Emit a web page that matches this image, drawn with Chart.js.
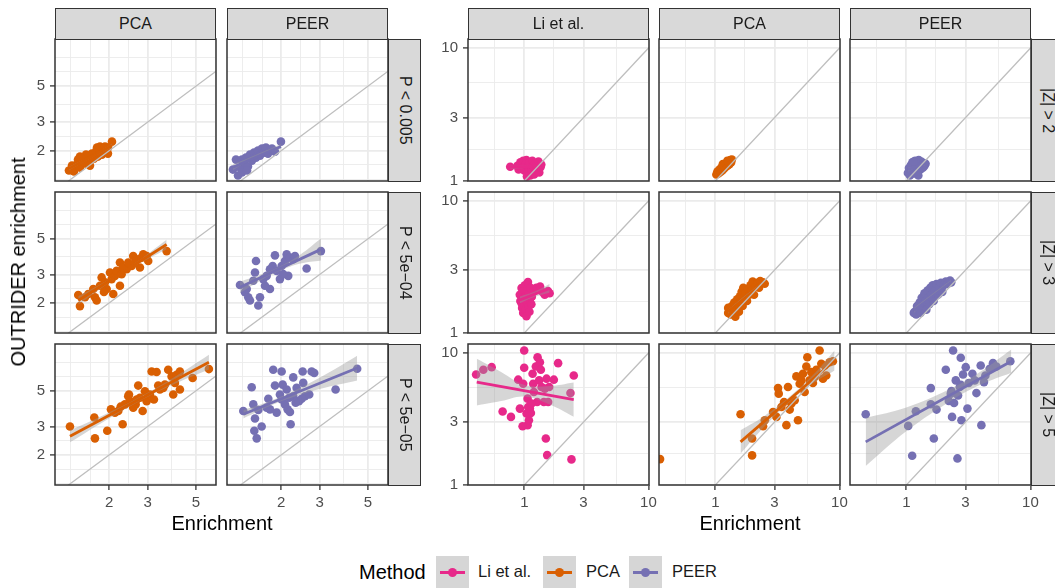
<!DOCTYPE html>
<html lang="en">
<head>
<meta charset="UTF-8">
<title>OUTRIDER enrichment</title>
<script src="https://cdn.jsdelivr.net/npm/chart.js"></script>
<style>
  body { margin: 0; background: #fff; }
  #figure { position: relative; width: 1055px; height: 588px; overflow: hidden; font-family: 'Liberation Sans', Arial, sans-serif; }
  #figure canvas { position: absolute; }
  .strip { position: absolute; box-sizing: border-box; background: #D9D9D9; border: 1px solid #333; color: #1A1A1A; font-size: 16px; display: flex; align-items: center; justify-content: center; white-space: nowrap; }
  .strip.side { writing-mode: vertical-rl; }
  .title { position: absolute; font-size: 20px; color: #000; white-space: nowrap; line-height: 1; }
  .key { position: absolute; top: 556px; width: 33px; height: 32px; background: #D6D6D6; }
  .key .ln { position: absolute; left: 4px; top: 15px; width: 25px; height: 3px; }
  .key .dot { position: absolute; left: 12px; top: 12px; width: 9px; height: 9px; border-radius: 50%; }
  .lab { position: absolute; top: 563px; font-size: 16.5px; color: #1A1A1A; line-height: 1; white-space: nowrap; }
</style>
</head>
<body>
<div id="figure"></div>
<script>
// categories and labels
const methods = ['Li et al.', 'PCA', 'PEER'];
const methodColors = ['#E7298A', '#D95F02', '#7570B3'];
const pCols = ['PCA', 'PEER'];
const pRows = ['P < 0.005', 'P < 5e\u221204', 'P < 5e\u221205'];
const zRows = ['|Z| > 2', '|Z| > 3', '|Z| > 5'];

// axis breaks (labelled) and grid lines (major + minor)
const pTicks = [2, 3, 5];
const pGrid = [1.333, 1.633, 2, 2.449, 3, 3.873, 5, 6.124, 7.5];
const zTicks = [1, 3, 10];
const zGrid = [0.577, 1, 1.732, 3, 5.477, 10];
const pRangeX = [1.127, 6.18];
const pRangeY = [1.327, 9.77];
const zRangeX = [0.352, 10.1];
const zRangeY = [1, 11.7];

// y = x reference
const identity = [0.1, 100];

// ---- P-value panels: points [enrichment, OUTRIDER enrichment] ----
const ptsP1PCA = [[1.306,1.508],[1.349,1.618],[1.377,1.487],[1.421,1.641],[1.437,1.762],[1.467,1.573],[1.499,1.712],[1.531,1.812],[1.564,1.664],[1.597,1.865],[1.631,1.737],[1.631,1.618],[1.665,1.918],[1.701,1.787],[1.738,1.973],[1.756,2.088],[1.775,1.839],[1.813,2.03],[1.813,2.118],[1.851,1.891],[1.891,2.059],[1.911,2.118],[1.931,1.945],[1.972,1.918],[1.972,2.088],[2.058,2.273],[1.564,1.891],[1.467,1.841]];
const fitP1PCA = [[1.306,1.55],[2.058,2.15]];
const bandP1PCA = [[1.306,1.51,1.59],[1.65,1.80,1.86],[2.058,2.09,2.21]];

const ptsP1PEER = [[1.2,1.529],[1.239,1.762],[1.266,1.405],[1.293,1.573],[1.32,1.466],[1.349,1.689],[1.377,1.812],[1.407,1.596],[1.437,1.891],[1.467,1.737],[1.499,1.945],[1.531,1.812],[1.564,2.001],[1.597,1.865],[1.631,2.059],[1.665,1.945],[1.701,2.088],[1.738,1.918],[1.775,2.001],[1.813,2.059],[1.871,1.973],[1.993,2.273],[1.32,1.762],[1.393,1.508]];
const fitP1PEER = [[1.2,1.58],[1.993,2.12]];
const bandP1PEER = [[1.2,1.52,1.64],[1.55,1.85,1.9],[1.993,2.05,2.2]];

const ptsP2PCA = [[1.441,2.24],[1.467,1.91],[1.719,2.17],[1.751,2.068],[1.845,2.879],[2.015,3.09],[2.086,2.273],[2.239,2.556],[2.239,3.56],[2.403,3.237],[2.533,3.393],[2.576,3.908],[2.766,3.317],[2.864,4.003],[3.019,3.641],[3.667,4.195],[1.813,2.556],[1.911,2.683],[1.946,2.44],[2.051,2.811],[2.124,2.944],[2.162,3.16],[2.28,3.016],[2.318,3.317],[2.444,3.56],[2.623,3.56],[2.671,3.73],[2.816,3.82],[2.969,3.908],[1.689,2.44],[1.602,2.273],[1.547,2.17],[1.891,2.338]];
const fitP2PCA = [[1.441,2.07],[3.667,4.61]];
const bandP2PCA = [[1.441,1.945,2.203],[1.9,2.546,2.70],[2.3,3.034,3.15],[2.9,3.65,3.89],[3.667,4.31,4.93]];

const ptsP2PEER = [[1.293,2.582],[1.363,2.328],[1.411,2.17],[1.437,2.068],[1.531,3.641],[1.515,3.09],[1.569,1.926],[1.597,2.17],[1.654,2.811],[1.714,2.944],[1.775,2.44],[1.826,3.393],[1.871,3.947],[1.905,3.16],[1.972,2.811],[2.008,3.393],[2.08,3.641],[2.118,4.003],[2.153,2.944],[2.192,3.82],[2.27,3.73],[2.311,3.908],[2.615,3.269],[3.041,4.195],[1.488,2.744],[1.684,2.556],[1.775,3.237],[2.043,3.016],[1.388,2.44]];
const fitP2PEER = [[1.293,2.5],[3.041,4.3]];
const bandP2PEER = [[1.293,2.30,2.715],[1.6,2.744,2.981],[1.97,3.167,3.363],[2.45,3.513,3.996],[3.041,3.673,5.02]];

const ptsP3PCA = [[1.32,3.003],[1.719,2.534],[1.707,3.412],[1.958,2.822],[2.036,3.837],[2.124,3.662],[2.304,3.103],[2.256,3.986],[2.463,4.745],[2.489,4.315],[2.643,4.119],[2.671,4.42],[2.716,5.39],[2.846,3.746],[2.916,4.971],[2.969,4.315],[3.074,4.745],[3.13,6.598],[3.206,4.42],[3.299,6.542],[3.356,5.39],[3.417,5.093],[3.538,5.215],[3.602,5.466],[3.729,6.758],[3.866,6.147],[3.932,4.745],[4.003,5.6],[4.075,6.295],[4.22,5.093],[4.22,6.598],[4.827,6.01],[5.733,6.825],[2.36,4.119],[2.576,3.93],[2.766,4.528],[2.444,4.631],[2.199,3.746]];
const fitP3PCA = [[1.32,2.608],[5.733,7.536]];
const bandP3PCA = [[1.32,2.394,2.84],[1.9,3.24,3.553],[2.75,4.311,4.554],[4.0,5.523,6.112],[5.733,6.778,8.38]];

const ptsP3PEER = [[1.339,3.746],[1.463,5.26],[1.488,4.119],[1.515,3.364],[1.504,2.822],[1.543,2.534],[1.626,3.003],[1.744,4.464],[1.775,3.837],[1.837,6.758],[1.871,5.39],[1.905,3.662],[1.972,4.745],[2.008,6.598],[2.03,5.466],[2.08,4.119],[2.118,5.093],[2.139,3.837],[2.192,3.693],[2.208,3.103],[2.27,6.061],[2.328,4.22],[2.353,5.215],[2.411,4.315],[2.481,4.464],[2.507,6.598],[2.523,5.6],[2.569,4.631],[2.688,4.745],[2.757,6.598],[2.834,6.45],[3.552,5.093],[4.462,6.855],[1.714,3.93],[2.008,4.42],[2.27,4.631],[2.176,4.528],[1.569,3.8]];
const fitP3PEER = [[1.339,3.575],[4.462,6.924]];
const bandP3PEER = [[1.339,3.367,3.795],[1.7,3.919,4.238],[2.1,4.41,4.749],[3.0,5.135,6.035],[4.462,5.8,8.27]];

// ---- |Z| panels ----
const ptsZ1Li = [[0.77,1.28],[0.88,1.3],[0.9,1.22],[0.93,1.38],[0.95,1.25],[0.98,1.42],[1.0,1.2],[1.02,1.33],[1.04,1.44],[1.06,1.15],[1.08,1.27],[1.1,1.38],[1.12,1.1],[1.14,1.22],[1.16,1.42],[1.18,1.3],[1.2,1.12],[1.22,1.36],[1.25,1.22],[1.28,1.3],[1.3,1.4],[1.32,1.16],[1.35,1.27],[1.37,1.33],[1.05,1.08]];
const fitZ1Li = [[0.77,1.27],[1.37,1.29]];
const bandZ1Li = [[0.77,1.23,1.31],[1.1,1.26,1.30],[1.37,1.25,1.32]];

const ptsZ1PCA = [[1.02,1.12],[1.04,1.18],[1.06,1.14],[1.08,1.22],[1.1,1.17],[1.12,1.26],[1.14,1.2],[1.16,1.3],[1.18,1.24],[1.2,1.33],[1.22,1.28],[1.24,1.37],[1.26,1.31],[1.28,1.4],[1.3,1.34],[1.32,1.44],[1.34,1.38],[1.36,1.45],[1.15,1.34],[1.25,1.42]];
const fitZ1PCA = [[1.02,1.13],[1.36,1.44]];
const bandZ1PCA = [[1.02,1.11,1.15],[1.18,1.27,1.29],[1.36,1.42,1.46]];

const ptsZ1PEER = [[1.03,1.15],[1.05,1.25],[1.07,1.1],[1.09,1.32],[1.1,1.2],[1.12,1.38],[1.14,1.28],[1.16,1.14],[1.18,1.42],[1.2,1.24],[1.22,1.34],[1.24,1.18],[1.26,1.44],[1.28,1.3],[1.3,1.22],[1.32,1.4],[1.34,1.32],[1.36,1.26],[1.38,1.36],[1.4,1.3],[1.43,1.35],[1.15,1.4],[1.25,1.1]];
const fitZ1PEER = [[1.03,1.22],[1.43,1.35]];
const bandZ1PEER = [[1.03,1.18,1.26],[1.22,1.27,1.3],[1.43,1.31,1.39]];

const ptsZ2Li = [[0.92,1.95],[0.93,1.75],[0.95,2.19],[0.95,1.68],[0.96,1.55],[0.97,2.05],[0.98,1.42],[0.99,1.85],[1.0,1.62],[1.01,2.3],[1.02,1.5],[1.03,1.9],[1.04,1.34],[1.05,1.72],[1.06,2.1],[1.07,2.43],[1.08,1.58],[1.09,1.98],[1.1,1.45],[1.11,1.8],[1.12,2.2],[1.14,1.65],[1.15,1.88],[1.18,2.06],[1.25,2.2],[1.34,2.25],[1.4,2.05],[1.46,1.95],[1.55,2.08],[1.6,2.0]];
const fitZ2Li = [[0.92,1.78],[1.6,2.18]];
const bandZ2Li = [[0.92,1.68,1.89],[1.2,1.875,2.055],[1.6,2.03,2.35]];

const ptsZ2PCA = [[1.27,1.42],[1.27,1.55],[1.3,1.5],[1.33,1.38],[1.36,1.6],[1.4,1.45],[1.42,1.7],[1.45,1.33],[1.48,1.55],[1.5,1.8],[1.52,1.65],[1.55,1.45],[1.58,1.9],[1.6,1.7],[1.63,2.05],[1.66,1.6],[1.68,2.2],[1.7,1.85],[1.75,2.0],[1.8,1.75],[1.84,2.15],[1.88,1.95],[1.92,2.3],[1.96,2.1],[2.0,2.45],[2.05,1.95],[2.1,2.25],[2.18,2.4],[2.25,2.2],[2.3,2.48],[2.42,2.42],[2.5,2.36]];
const fitZ2PCA = [[1.27,1.45],[2.5,2.42]];
const bandZ2PCA = [[1.27,1.40,1.50],[1.75,1.88,1.93],[2.5,2.35,2.5]];

const ptsZ2PEER = [[1.15,1.42],[1.17,1.45],[1.2,1.38],[1.22,1.6],[1.25,1.5],[1.28,1.7],[1.3,1.42],[1.33,1.85],[1.36,1.6],[1.4,2.0],[1.42,1.75],[1.45,1.5],[1.48,2.1],[1.5,1.85],[1.53,1.65],[1.56,2.2],[1.6,1.95],[1.63,2.3],[1.66,1.75],[1.7,2.1],[1.75,2.35],[1.8,1.95],[1.85,2.25],[1.9,2.4],[1.95,2.05],[2.0,2.3],[2.08,2.45],[2.15,2.35],[2.25,2.5],[2.3,2.42]];
const fitZ2PEER = [[1.15,1.48],[2.3,2.42]];
const bandZ2PEER = [[1.15,1.42,1.55],[1.6,1.9,1.96],[2.3,2.33,2.52]];

const ptsZ3Li = [[0.409,6.88],[0.468,7.47],[0.546,7.81],[0.669,3.6],[0.781,3.28],[0.893,6.28],[0.922,3.79],[0.98,5.85],[0.998,10.44],[0.998,7.73],[1.063,4.51],[1.063,2.84],[1.089,3.095],[1.109,3.79],[1.13,3.51],[1.166,6.97],[1.179,5.85],[1.194,5.06],[1.239,7.91],[1.279,9.29],[1.335,8.52],[1.359,7.47],[1.269,4.25],[1.317,6.2],[1.377,5.52],[1.437,4.25],[1.491,2.252],[1.511,6.39],[1.528,1.684],[1.585,5.52],[1.729,6.28],[1.872,8.38],[2.354,4.97],[2.398,1.563],[2.503,6.76],[1.075,3.9],[1.144,4.14],[1.464,5.37],[1.043,3.48],[0.969,2.79],[1.556,4.25]];
const fitZ3Li = [[0.414,6.02],[2.503,4.43]];
const bandZ3Li = [[0.414,4.01,9.03],[0.65,4.33,7.18],[1.0,4.68,5.74],[1.6,4.07,5.62],[2.503,3.29,5.98]];

const ptsZ3PCA = [[0.359,1.571],[1.597,3.435],[1.979,2.252],[1.979,1.676],[2.425,2.79],[2.918,3.575],[3.108,3.28],[3.2,5.42],[3.242,4.92],[3.738,2.84],[3.85,5.52],[3.974,3.727],[4.102,4.14],[4.498,6.65],[4.634,3.095],[4.781,5.85],[5.082,6.97],[5.245,5.06],[5.41,7.91],[5.512,9.29],[5.935,7.16],[6.113,5.92],[6.512,7.47],[6.92,10.44],[7.14,8.29],[7.36,6.39],[7.83,6.76],[8.33,8.52],[8.85,8.67],[7.59,8.05],[4.36,4.38],[3.577,4.25],[2.503,3.095],[3.408,3.9],[4.934,6.2],[5.752,6.2],[6.31,6.57]];
const fitZ3PCA = [[1.597,2.122],[9.13,8.78]];
const bandZ3PCA = [[1.597,1.733,2.599],[2.5,2.788,3.352],[4.0,4.281,4.694],[6.0,5.821,6.682],[9.13,7.37,10.45]];

const ptsZ3PEER = [[0.471,3.435],[1.036,2.803],[1.115,1.664],[1.194,3.618],[1.576,4.087],[1.576,5.42],[1.666,2.252],[1.752,3.727],[2.08,7.47],[2.199,4.33],[2.311,5.15],[2.337,3.28],[2.381,10.44],[2.425,4.18],[2.503,6.2],[2.582,1.59],[2.612,4.77],[2.695,5.52],[2.745,9.2],[2.781,3.095],[2.864,6.88],[3.011,7.81],[3.108,3.79],[3.183,5.92],[3.408,6.97],[3.556,6.2],[3.671,4.97],[3.974,8.05],[4.025,2.84],[4.223,6.02],[4.335,6.76],[4.694,7.59],[4.989,8.38],[5.314,7.91],[6.882,8.67],[2.745,5.75],[2.282,4.92]];
const fitZ3PEER = [[0.471,2.122],[7.01,8.67]];
const bandZ3PEER = [[0.471,1.396,3.228],[1.0,2.554,3.867],[2.4,4.471,5.5],[4.0,5.77,7.26],[7.01,7.08,10.62]];

// grid of panels, rows x columns
const pPanels = [
  [[ptsP1PCA, fitP1PCA, bandP1PCA], [ptsP1PEER, fitP1PEER, bandP1PEER]],
  [[ptsP2PCA, fitP2PCA, bandP2PCA], [ptsP2PEER, fitP2PEER, bandP2PEER]],
  [[ptsP3PCA, fitP3PCA, bandP3PCA], [ptsP3PEER, fitP3PEER, bandP3PEER]]
];
const zPanels = [
  [[ptsZ1Li, fitZ1Li, bandZ1Li], [ptsZ1PCA, fitZ1PCA, bandZ1PCA], [ptsZ1PEER, fitZ1PEER, bandZ1PEER]],
  [[ptsZ2Li, fitZ2Li, bandZ2Li], [ptsZ2PCA, fitZ2PCA, bandZ2PCA], [ptsZ2PEER, fitZ2PEER, bandZ2PEER]],
  [[ptsZ3Li, fitZ3Li, bandZ3Li], [ptsZ3PCA, fitZ3PCA, bandZ3PCA], [ptsZ3PEER, fitZ3PEER, bandZ3PEER]]
];

// page geometry
const rowTop = [39, 192, 344];
const rowH = [142, 141, 141];
const pLeft = [55, 227], pW = 161;
const zLeft = [468, 659, 850], zW = 181;
const PAD = 12, Y_AXIS_W = 40, X_AXIS_H = 28;

const fig = document.getElementById('figure');
Chart.defaults.font.family = "'Liberation Sans', Arial, sans-serif";

const panelBorder = {
  id: 'panelBorder',
  afterDraw(chart) {
    const { ctx, chartArea: a } = chart;
    ctx.save();
    ctx.strokeStyle = '#333333';
    ctx.lineWidth = 1.5;
    ctx.strokeRect(a.left, a.top, a.right - a.left, a.bottom - a.top);
    ctx.restore();
  }
};

function logAxis(range, grid, labels, show, isX) {
  return {
    type: 'logarithmic',
    min: range[0],
    max: range[1],
    afterBuildTicks: s => {
      s.ticks = grid.filter(v => v >= range[0] && v <= range[1]).map(v => ({ value: v }));
    },
    afterFit: s => {
      if (isX) s.height = show ? X_AXIS_H : 0;
      else s.width = show ? Y_AXIS_W : 0;
      s.paddingLeft = s.paddingRight = s.paddingTop = s.paddingBottom = 0;
    },
    border: { display: false },
    grid: {
      color: '#EBEBEB',
      lineWidth: c => (c.tick && labels.includes(c.tick.value)) ? 1.8 : 0.9,
      drawTicks: show,
      tickLength: 5,
      tickWidth: 1.3,
      tickColor: c => (c.tick && labels.includes(c.tick.value)) ? '#333333' : 'rgba(0,0,0,0)'
    },
    ticks: {
      display: show,
      autoSkip: false,
      maxRotation: 0,
      padding: isX ? 4 : 5,
      color: '#4D4D4D',
      font: { size: 15 },
      callback: v => labels.includes(v) ? String(v) : ''
    }
  };
}

function makePanel(o) {
  const [pts, fit, band] = o.data;
  const yw = o.showY ? Y_AXIS_W : 0;
  const xh = o.showX ? X_AXIS_H : 0;
  const cv = document.createElement('canvas');
  const cw = o.w + yw + 2 * PAD, ch = o.h + xh + 2 * PAD;
  cv.width = cw; cv.height = ch;
  cv.style.left = (o.left - yw - PAD) + 'px';
  cv.style.top = (o.top - PAD) + 'px';
  cv.style.width = cw + 'px';
  cv.style.height = ch + 'px';
  fig.appendChild(cv);

  new Chart(cv, {
    type: 'scatter',
    data: {
      datasets: [
        { data: identity.map(v => ({ x: v, y: v })), showLine: true, borderColor: '#BEBEBE', borderWidth: 1.3, pointRadius: 0, order: 0, clip: 0 },
        { data: fit.map(([x, y]) => ({ x, y })), showLine: true, borderColor: o.color, borderWidth: 2.8, pointRadius: 0, order: 1, clip: 0 },
        { data: band.map(([x, lo]) => ({ x, y: lo })), showLine: true, borderColor: 'rgba(0,0,0,0)', borderWidth: 0, pointRadius: 0, tension: 0.4, order: 3, clip: 0 },
        { data: band.map(([x, , hi]) => ({ x, y: hi })), showLine: true, borderColor: 'rgba(0,0,0,0)', borderWidth: 0, pointRadius: 0, tension: 0.4, fill: '-1', backgroundColor: 'rgba(153,153,153,0.4)', order: 2, clip: 0 },
        { data: pts.map(([x, y]) => ({ x, y })), pointRadius: 4.3, pointBackgroundColor: o.color, pointBorderWidth: 0, borderColor: o.color, order: 4, clip: 0 }
      ]
    },
    options: {
      responsive: false,
      animation: false,
      events: [],
      layout: { padding: PAD },
      plugins: { legend: { display: false }, tooltip: { enabled: false } },
      scales: {
        x: logAxis(o.xRange, o.xGrid, o.xTicks, o.showX, true),
        y: logAxis(o.yRange, o.yGrid, o.yTicks, o.showY, false)
      }
    },
    plugins: [panelBorder]
  });
}

function addDiv(cls, text, css) {
  const d = document.createElement('div');
  d.className = cls;
  d.textContent = text;
  Object.assign(d.style, css);
  fig.appendChild(d);
  return d;
}

// P-value group
pPanels.forEach((row, r) => row.forEach((data, c) => makePanel({
  left: pLeft[c], top: rowTop[r], w: pW, h: rowH[r],
  showX: r === 2, showY: c === 0, color: methodColors[c + 1], data,
  xRange: pRangeX, yRange: pRangeY, xGrid: pGrid, yGrid: pGrid, xTicks: pTicks, yTicks: pTicks
})));
// |Z| group
zPanels.forEach((row, r) => row.forEach((data, c) => makePanel({
  left: zLeft[c], top: rowTop[r], w: zW, h: rowH[r],
  showX: r === 2, showY: c === 0, color: methodColors[c], data,
  xRange: zRangeX, yRange: zRangeY, xGrid: zGrid, yGrid: zGrid, xTicks: zTicks, yTicks: zTicks
})));

// facet strips
pCols.forEach((t, c) => addDiv('strip', t, { left: pLeft[c] + 'px', top: '8px', width: pW + 'px', height: '32px' }));
methods.forEach((t, c) => addDiv('strip', t, { left: zLeft[c] + 'px', top: '8px', width: zW + 'px', height: '32px' }));
pRows.forEach((t, r) => addDiv('strip side', t, { left: (pLeft[1] + pW) + 'px', top: rowTop[r] + 'px', width: '33px', height: (rowH[r] + 1) + 'px' }));
zRows.forEach((t, r) => addDiv('strip side', t, { left: (zLeft[2] + zW) + 'px', top: rowTop[r] + 'px', width: '33px', height: (rowH[r] + 1) + 'px' }));

// axis titles
addDiv('title', 'Enrichment', { left: '222px', top: '513px', transform: 'translateX(-50%)' });
addDiv('title', 'Enrichment', { left: '750px', top: '513px', transform: 'translateX(-50%)' });
addDiv('title', 'OUTRIDER enrichment', { left: '18px', top: '262px', transform: 'translate(-50%,-50%) rotate(-90deg)' });

// legend
addDiv('title', 'Method', { left: '359px', top: '562px' });
const keyLeft = [436, 543, 629], labLeft = [478, 586, 672];
methods.forEach((m, i) => {
  const k = addDiv('key', '', { left: keyLeft[i] + 'px' });
  const ln = document.createElement('div'); ln.className = 'ln'; ln.style.background = methodColors[i]; k.appendChild(ln);
  const dot = document.createElement('div'); dot.className = 'dot'; dot.style.background = methodColors[i]; k.appendChild(dot);
  addDiv('lab', m, { left: labLeft[i] + 'px' });
});
</script>
</body>
</html>
